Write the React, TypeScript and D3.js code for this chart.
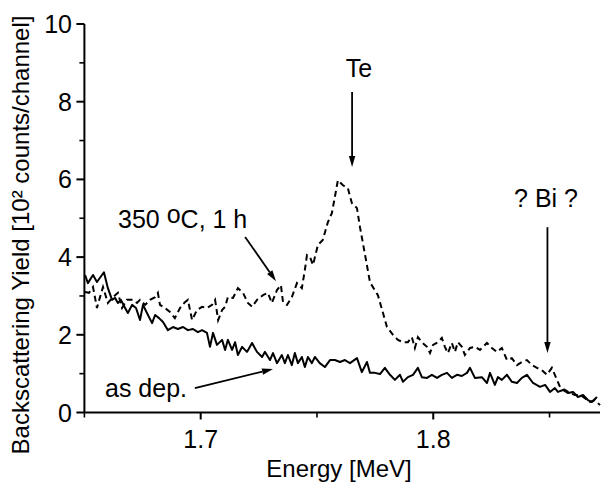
import React from 'react';
import * as d3 from 'd3';

const asDepEnergy = [1.6503,1.6515,1.6537,1.6554,1.6584,1.6601,1.6619,1.6632,1.6644,1.6657,1.6675,1.6687,1.6705,1.6722,1.6739,1.6752,1.6769,1.6791,1.6804,1.6821,1.6838,1.6859,1.6881,1.6902,1.6924,1.6945,1.6967,1.6988,1.7006,1.7027,1.7040,1.7053,1.7070,1.7092,1.7105,1.7117,1.7135,1.7148,1.7160,1.7178,1.7199,1.7221,1.7242,1.7264,1.7276,1.7298,1.7311,1.7328,1.7349,1.7362,1.7375,1.7392,1.7405,1.7418,1.7435,1.7448,1.7461,1.7478,1.7491,1.7512,1.7534,1.7556,1.7577,1.7599,1.7620,1.7642,1.7672,1.7693,1.7715,1.7728,1.7749,1.7771,1.7792,1.7814,1.7835,1.7857,1.7870,1.7891,1.7913,1.7934,1.7951,1.7973,1.7994,1.8016,1.8037,1.8059,1.8080,1.8102,1.8123,1.8145,1.8158,1.8179,1.8209,1.8231,1.8244,1.8265,1.8278,1.8295,1.8317,1.8338,1.8360,1.8381,1.8403,1.8429,1.8459,1.8481,1.8502,1.8523,1.8536,1.8558,1.8580,1.8601,1.8622,1.8644,1.8665,1.8682,1.8704];
const asDepYield = [3.54,3.33,3.54,3.36,3.61,3.20,2.90,2.95,2.82,2.90,2.69,2.56,2.77,2.69,2.38,2.77,2.56,2.30,2.51,2.43,2.33,2.12,2.20,2.15,2.20,2.12,2.15,2.07,2.12,2.05,1.69,2.05,1.74,1.87,1.61,1.87,1.61,1.81,1.48,1.69,1.56,1.79,1.56,1.43,1.56,1.35,1.53,1.27,1.48,1.27,1.48,1.22,1.53,1.27,1.43,1.17,1.43,1.27,1.43,1.27,1.17,1.35,1.35,1.30,1.35,1.27,1.40,1.04,1.30,1.02,1.02,0.99,1.15,0.97,0.84,0.97,0.79,0.91,0.97,1.15,0.91,0.89,0.97,0.89,0.97,1.02,0.89,0.97,0.94,1.02,1.15,0.89,0.91,0.76,1.02,0.71,0.91,0.84,0.97,0.79,0.76,0.89,0.97,0.76,0.66,0.71,0.53,0.63,0.53,0.58,0.50,0.53,0.40,0.45,0.32,0.27,0.40];

const annealEnergy = [1.6503,1.6520,1.6537,1.6554,1.6567,1.6580,1.6601,1.6623,1.6644,1.6662,1.6683,1.6709,1.6726,1.6739,1.6761,1.6782,1.6804,1.6816,1.6825,1.6846,1.6868,1.6889,1.6911,1.6932,1.6945,1.6963,1.6984,1.7006,1.7027,1.7049,1.7062,1.7075,1.7092,1.7105,1.7117,1.7139,1.7160,1.7182,1.7203,1.7221,1.7242,1.7268,1.7289,1.7306,1.7328,1.7345,1.7354,1.7371,1.7392,1.7414,1.7435,1.7448,1.7457,1.7470,1.7483,1.7504,1.7525,1.7547,1.7564,1.7577,1.7590,1.7612,1.7633,1.7650,1.7672,1.7685,1.7707,1.7728,1.7762,1.7784,1.7801,1.7827,1.7848,1.7870,1.7891,1.7908,1.7921,1.7934,1.7951,1.7973,1.7986,1.7999,1.8020,1.8037,1.8050,1.8063,1.8080,1.8093,1.8106,1.8123,1.8136,1.8158,1.8179,1.8201,1.8231,1.8252,1.8274,1.8295,1.8317,1.8338,1.8360,1.8381,1.8403,1.8424,1.8446,1.8467,1.8489,1.8510,1.8532,1.8545,1.8566,1.8588,1.8609,1.8631,1.8652,1.8674,1.8695,1.8717];
const annealYield = [3.10,3.08,3.23,2.69,2.97,3.23,2.82,2.97,3.08,2.69,2.90,2.90,2.82,2.90,2.77,2.90,2.97,3.08,2.77,2.69,2.59,2.43,2.69,2.84,2.90,2.38,2.64,2.72,2.69,2.77,2.90,2.38,2.64,2.72,2.97,2.95,3.20,3.08,2.82,2.72,2.90,3.02,3.08,2.82,3.15,3.28,2.84,2.77,2.97,3.33,3.20,3.67,4.05,4.00,3.80,4.31,4.44,4.90,5.13,5.55,5.98,5.85,5.77,5.39,5.26,4.77,4.05,3.35,3.02,2.56,2.20,2.00,1.87,1.81,1.81,1.94,1.66,1.94,1.81,1.69,1.53,1.74,1.81,1.92,1.69,1.53,1.79,1.56,1.81,1.69,1.48,1.66,1.69,1.61,1.79,1.66,1.56,1.66,1.35,1.40,1.22,1.30,1.35,1.22,1.15,1.09,0.97,1.15,0.84,0.66,0.58,0.50,0.45,0.45,0.37,0.27,0.32,0.19];

const xMajorTicks = [1.7, 1.8];
const xMinorTicks = [1.65, 1.75, 1.85];
const yMajorTicks = [0, 2, 4, 6, 8, 10];
const yMinorTicks = [1, 3, 5, 7, 9];
const xTitle = 'Energy [MeV]';
const yTitle = 'Backscattering Yield [10\u00B2 counts/channel]';

const FONT = '"Liberation Sans", Arial, Helvetica, sans-serif';

export default function App() {
  const W = 601, H = 487;
  const x = d3.scaleLinear().domain([1.65, 1.8717]).range([84.4, 600]);
  const y = d3.scaleLinear().domain([0, 10]).range([412.5, 24]);
  const line = d3.line<[number, number]>().x(d => x(d[0])).y(d => y(d[1]));
  const asDep = asDepEnergy.map((e, i) => [e, asDepYield[i]] as [number, number]);
  const anneal = annealEnergy.map((e, i) => [e, annealYield[i]] as [number, number]);
  const x0 = x(1.65), y0 = y(0);
  const fmt = d3.format('.1f');

  const arrow = (e1: number, v1: number, e2: number, v2: number, key: string) => {
    const ax = x(e1), ay = y(v1), bx = x(e2), by = y(v2);
    const ang = Math.atan2(by - ay, bx - ax);
    const L = 11, Wd = 3.2;
    const baseX = bx - L * Math.cos(ang), baseY = by - L * Math.sin(ang);
    const px = -Math.sin(ang) * Wd, py = Math.cos(ang) * Wd;
    return (
      <g key={key}>
        <line x1={ax} y1={ay} x2={baseX} y2={baseY} stroke="#000" strokeWidth={1.8} />
        <path d={`M${bx},${by}L${baseX + px},${baseY + py}L${baseX - px},${baseY - py}Z`} fill="#000" />
      </g>
    );
  };

  return (
    <svg width={W} height={H} style={{ position: 'absolute', left: 0, top: 0, background: '#fff' }} fontFamily={FONT}>
      {/* axes */}
      <line x1={x0} y1={y(10)} x2={x0} y2={y0} stroke="#000" strokeWidth={2} />
      <line x1={x0} y1={y0} x2={600} y2={y0} stroke="#000" strokeWidth={2} />
      {yMajorTicks.map(t => (
        <g key={'ym' + t}>
          <line x1={x0 - 8} x2={x0} y1={y(t)} y2={y(t)} stroke="#000" strokeWidth={2} />
          <text x={72} y={y(t)} dy="0.36em" textAnchor="end" fontSize={25}>{t}</text>
        </g>
      ))}
      {yMinorTicks.map(t => (
        <line key={'yn' + t} x1={x0 - 5} x2={x0} y1={y(t)} y2={y(t)} stroke="#000" strokeWidth={1.6} />
      ))}
      {xMajorTicks.map(t => (
        <g key={'xm' + t}>
          <line x1={x(t)} x2={x(t)} y1={y0} y2={y0 + 7} stroke="#000" strokeWidth={2} />
          <text x={x(t)} y={448} textAnchor="middle" fontSize={25}>{fmt(t)}</text>
        </g>
      ))}
      {xMinorTicks.map(t => (
        <line key={'xn' + t} x1={x(t)} x2={x(t)} y1={y0} y2={y0 + 5} stroke="#000" strokeWidth={1.6} />
      ))}
      <text x={339} y={477} textAnchor="middle" fontSize={24}>{xTitle}</text>
      <text transform="translate(29,235) rotate(-90)" textAnchor="middle" fontSize={24}>{yTitle}</text>

      {/* data */}
      <path d={line(asDep) || ''} fill="none" stroke="#000" strokeWidth={2} strokeLinejoin="round" />
      <path d={line(anneal) || ''} fill="none" stroke="#000" strokeWidth={2} strokeDasharray="6,4" />

      {/* annotations */}
      <text x={359} y={77} textAnchor="middle" fontSize={25}>Te</text>
      {arrow(1.7651, 8.25, 1.7651, 6.32, 'te')}
      <text x={546} y={207} textAnchor="middle" fontSize={25}>? Bi ?</text>
      {arrow(1.8491, 4.77, 1.8491, 1.53, 'bi')}
      <text x={118} y={228} fontSize={25}>350 <tspan dy={-5}>o</tspan><tspan dy={5}>C, 1 h</tspan></text>
      {arrow(1.7191, 4.52, 1.7324, 3.38, 'ann')}
      <text x={105} y={397} fontSize={25}>as dep.</text>
      {arrow(1.6975, 0.63, 1.7311, 1.12, 'dep')}
    </svg>
  );
}
